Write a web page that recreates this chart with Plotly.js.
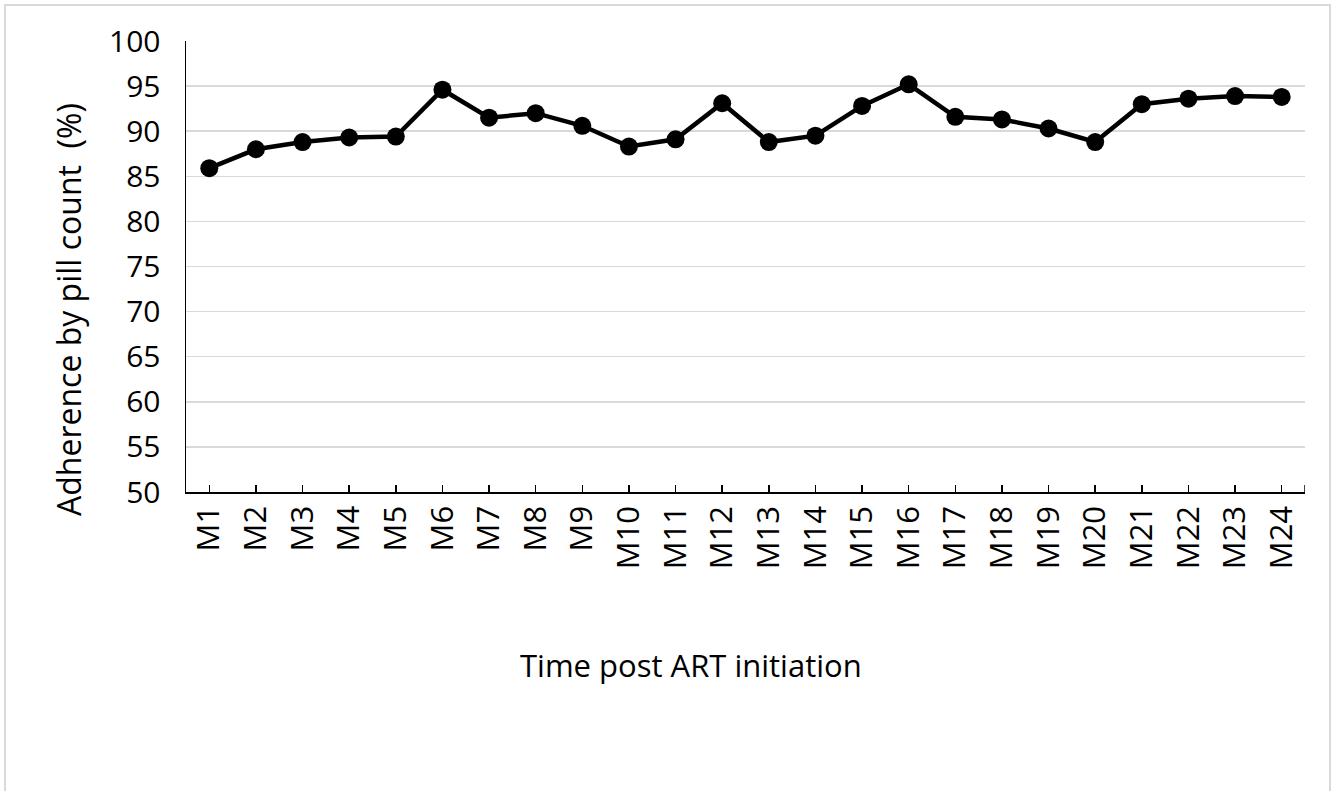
<!DOCTYPE html>
<html>
<head>
<meta charset="utf-8">
<script src="https://cdn.plot.ly/plotly-3.0.1.min.js"></script>
<style>html,body{margin:0;padding:0;background:#fff;}#chart{width:1339px;height:791px;}</style>
</head>
<body>
<div id="chart"></div>
<script>
var months = ["M1","M2","M3","M4","M5","M6","M7","M8","M9","M10","M11","M12","M13","M14","M15","M16","M17","M18","M19","M20","M21","M22","M23","M24"];
var adherence = [85.9, 88.0, 88.8, 89.3, 89.4, 94.6, 91.5, 92.0, 90.6, 88.3, 89.1, 93.1, 88.8, 89.5, 92.8, 95.2, 91.6, 91.3, 90.3, 88.8, 93.0, 93.6, 93.9, 93.8];
var yTicks = [50, 55, 60, 65, 70, 75, 80, 85, 90, 95, 100];
var xTitle = "Time post ART initiation";
var yTitle = "Adherence by pill count\u00a0\u00a0(%)";

var FONT = "'Open Sans', Lato, sans-serif";

var trace = {
  x: months, y: adherence, type: "scatter", mode: "lines+markers",
  line: {color: "#000000", width: 4.5},
  marker: {color: "#000000", size: 18},
  hoverinfo: "x+y"
};

var layout = {
  width: 1339, height: 791,
  margin: {l: 186, r: 34, t: 41, b: 299},
  paper_bgcolor: "#ffffff", plot_bgcolor: "#ffffff",
  showlegend: false,
  font: {family: FONT, color: "#000000", size: 30},
  xaxis: {
    type: "category", range: [-0.5, 23.5],
    tickangle: -90, ticks: "inside", ticklen: 7, tickwidth: 1.5, tickcolor: "#000",
    showline: true, linecolor: "#000", linewidth: 1.5,
    showgrid: false, zeroline: false,
    tickfont: {family: FONT, size: 31, color: "#000"},
    automargin: false
  },
  yaxis: {
    range: [50, 100], tickvals: yTicks, ticktext: yTicks.map(String),
    ticks: "", showline: true, linecolor: "#000", linewidth: 1.5,
    showgrid: true, gridcolor: "#d9d9d9", gridwidth: 1.5, zeroline: false,
    tickfont: {family: FONT, size: 30, color: "#000"},
    ticklabelstandoff: 18,
    automargin: false
  },
  annotations: [
    {text: xTitle, xref: "paper", yref: "paper", x: (691-186)/1119, y: (492-665)/451,
     xanchor: "center", yanchor: "middle", showarrow: false,
     font: {family: FONT, size: 31, color: "#000"}},
    {text: yTitle, xref: "paper", yref: "paper", x: (68-186)/1119, y: (492-310)/451,
     xanchor: "center", yanchor: "middle", textangle: -90, showarrow: false,
     font: {family: FONT, size: 32, color: "#000"}}
  ],
  shapes: [
    {type: "rect", xref: "paper", yref: "paper",
     x0: (5-186)/1119, x1: (1330-186)/1119, y0: -0.8, y1: (492-5)/451,
     line: {color: "#d9d9d9", width: 2}, fillcolor: "rgba(0,0,0,0)", layer: "below"},
    {type: "line", xref: "x", yref: "paper", x0: 23.5, x1: 23.5, y0: 0, y1: 7/451,
     line: {color: "#000", width: 1.5}}
  ]
};

Plotly.newPlot("chart", [trace], layout, {displayModeBar: false, staticPlot: true});
</script>
</body>
</html>
